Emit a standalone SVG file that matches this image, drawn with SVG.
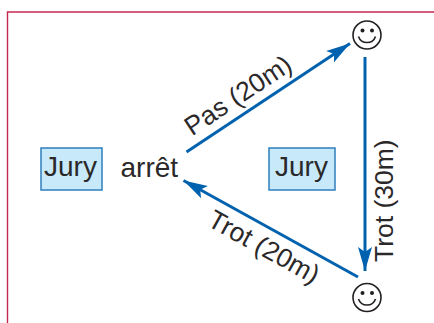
<svg xmlns="http://www.w3.org/2000/svg" width="434" height="323" viewBox="0 0 434 323">
<defs>
<style>
text{font-family:"Liberation Sans",Arial,sans-serif;font-size:28px;fill:#2b2829}
text.r{font-size:26.500px}
.box{fill:#c7e9fa;stroke:#2f7fbc;stroke-width:1.5}
.conn{fill:none;stroke:#0062ae;stroke-width:3;marker-end:url(#arrow)}
.face{fill:none;stroke:#231f20;stroke-width:1.6}
.eye{fill:#231f20}
</style>
<marker id="arrow" markerUnits="userSpaceOnUse" markerWidth="26" markerHeight="18" refX="24" refY="9" orient="auto">
<path d="M24 9L0 2L5 9L0 16Z" fill="#0062ae"/>
</marker>
</defs>
<rect width="434" height="323" fill="#fff"/>
<path d="M434 12H7.500V323" fill="none" stroke="#c5284f" stroke-width="1.400"/>
<g id="connectors">
<path class="conn" d="M186.500 152L350 43.500"/>
<path class="conn" d="M365 57V271"/>
<path class="conn" d="M358 277L183.500 180.500"/>
</g>
<g id="jury-left"><rect class="box" x="41" y="148" width="61" height="42"/><text x="44" y="176">Jury</text></g>
<g id="arret"><text x="120.500" y="176.500">arrêt</text></g>
<g id="jury-right"><rect class="box" x="269" y="148" width="66" height="42"/><text x="275" y="176">Jury</text></g>
<g id="smiley-top"><circle class="face" cx="367" cy="35" r="14"/><circle class="eye" cx="362.500" cy="30.500" r="2"/><circle class="eye" cx="372" cy="30.500" r="2"/><path class="face" d="M358.500 36.500A9 9 0 0 0 375.500 36.500"/></g>
<g id="smiley-bottom"><circle class="face" cx="367" cy="297.500" r="14"/><circle class="eye" cx="362.500" cy="293" r="2"/><circle class="eye" cx="372" cy="293" r="2"/><path class="face" d="M358.500 299A9 9 0 0 0 375.500 299"/></g>
<text class="r" transform="translate(192 136.500) rotate(-33.500)">Pas (20m)</text>
<text class="r" transform="translate(393 262) rotate(-90)">Trot (30m)</text>
<text class="r" transform="translate(206 225) rotate(29)">Trot (20m)</text>
</svg>
